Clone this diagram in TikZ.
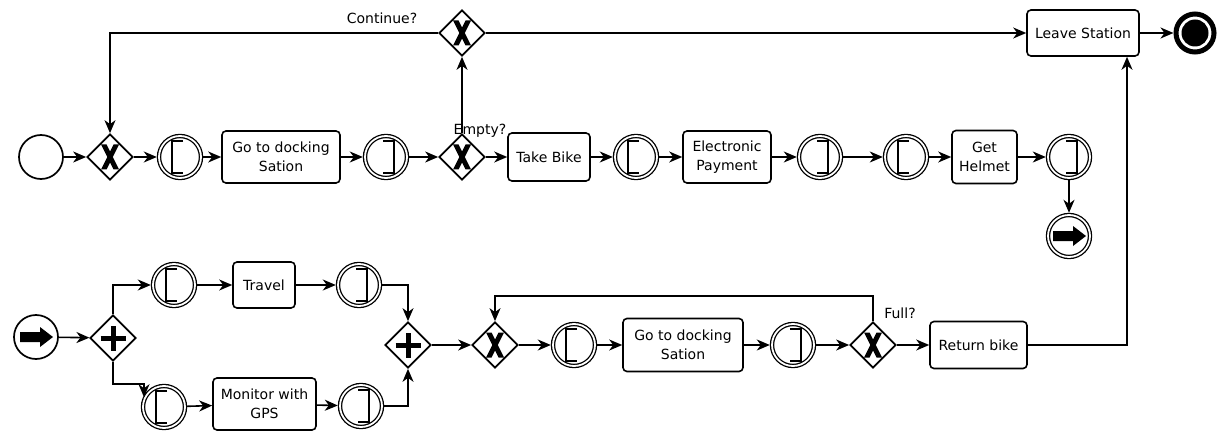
\documentclass[tikz,border=0pt]{standalone}
\usepackage{fontspec}
\setmainfont{DejaVu Sans}
\usetikzlibrary{shapes.geometric,arrows.meta}
\begin{document}
\begin{tikzpicture}[x=1pt,y=-1pt,
  font=\fontsize{14}{19}\selectfont,
  flow/.style={line width=1.6pt,-{Stealth[length=13pt,width=11pt,inset=4pt]}},
  task/.style={draw,line width=1.6pt,rounded corners=4pt,align=center,inner sep=2pt,outer sep=0.8pt},
  gw/.style={diamond,draw,line width=1.7pt,minimum width=46pt,minimum height=46pt,inner sep=0pt,outer sep=0.85pt},
  ievent/.style={circle,draw,line width=1.3pt,double,double distance=1.8pt,minimum size=42pt,inner sep=0pt,outer sep=2.2pt},
  startev/.style={circle,draw,line width=1.7pt,minimum size=44pt,inner sep=0pt,outer sep=0.85pt},
  endev/.style={circle,draw,line width=5pt,minimum size=38pt,inner sep=0pt,outer sep=2.5pt},
  bracket/.style={line width=2pt},
  plusmark/.style={line width=5pt},
  lbl/.style={inner sep=0pt}
]
\useasboundingbox (0,0) rectangle (1229,433);

% top row
\node[startev] (s0) at (41,157) {};
\node[gw] (g1) at (110,157) {};
\node[ievent] (o1) at (180,157) {};
\node[task,minimum width=118pt,minimum height=52pt] (t1) at (281,157) {Go to docking\\Sation};
\node[ievent] (c1) at (386,157) {};
\node[gw] (g2) at (462,157) {};
\node[task,minimum width=82pt,minimum height=48pt] (t2) at (549,157) {Take Bike};
\node[ievent] (o2) at (636,157) {};
\node[task,minimum width=88pt,minimum height=52pt] (t3) at (727,157) {Electronic\\Payment};
\node[ievent] (c2) at (820,157) {};
\node[ievent] (o3) at (906,157) {};
\node[task,minimum width=65pt,minimum height=53pt] (t4) at (984.5,157) {Get\\Helmet};
\node[ievent] (c3) at (1069,157) {};
\node[ievent] (lt) at (1069,236) {};

% very top
\node[gw] (g3) at (462,33) {};
\node[task,minimum width=112pt,minimum height=46pt] (t5) at (1083,33) {Leave Station};
\node[endev] (e) at (1195,33) {};

% bottom
\node[startev] (lc) at (36,337) {};
\node[gw] (a1) at (113,338) {};
\node[ievent] (o4) at (174,285) {};
\node[task,minimum width=62pt,minimum height=46pt] (t6) at (264,285) {Travel};
\node[ievent] (c4) at (359,285) {};
\node[ievent] (o5) at (164,407) {};
\node[task,minimum width=103pt,minimum height=52pt] (t7) at (264.5,404) {Monitor with\\GPS};
\node[ievent] (c5) at (361,406) {};
\node[gw] (a2) at (408,345) {};
\node[gw] (g4) at (495,345) {};
\node[ievent] (o6) at (574,345) {};
\node[task,minimum width=120pt,minimum height=53pt] (t8) at (683,345) {Go to docking\\Sation};
\node[ievent] (c6) at (793,345) {};
\node[gw] (g5) at (873,345) {};
\node[task,minimum width=97pt,minimum height=47pt] (t9) at (978.5,345) {Return bike};

% markers
\foreach \n in {g1,g2,g3,g4,g5} {
  \fill ([shift={(-9pt,-12.5pt)}]\n.center) -- ++(5.5pt,0pt) -- ++(12.5pt,25pt) -- ++(-5.5pt,0pt) -- cycle;
  \fill ([shift={(9pt,-12.5pt)}]\n.center) -- ++(-5.5pt,0pt) -- ++(-12.5pt,25pt) -- ++(5.5pt,0pt) -- cycle;
}
\foreach \n in {a1,a2} {
  \draw[plusmark] ([shift={(-12.5pt,0pt)}]\n.center) -- ++(25pt,0pt);
  \draw[plusmark] ([shift={(0pt,-12.5pt)}]\n.center) -- ++(0pt,25pt);
}
\foreach \n in {o1,o2,o3,o4,o5,o6} {
  \draw[bracket] ([shift={(3pt,16pt)}]\n.center) -- ++(-11pt,0pt) -- ++(0pt,-32pt) -- ++(11pt,0pt);
}
\foreach \n in {c1,c2,c3,c4,c5,c6} {
  \draw[bracket] ([shift={(-3pt,16pt)}]\n.center) -- ++(11pt,0pt) -- ++(0pt,-32pt) -- ++(-11pt,0pt);
}
\foreach \n in {lt,lc} {
  \fill ([shift={(-16pt,5pt)}]\n.center) -- ++(20pt,0pt) -- ++(0pt,5pt) -- ++(13pt,-10pt) -- ++(-13pt,-10pt) -- ++(0pt,5pt) -- ++(-20pt,0pt) -- cycle;
}
\fill (e.center) circle (13.5pt);

% labels
\node[lbl] (l1) at (382,18) {Continue?};
\node[lbl] (l2) at (480,131) {Empty?};
\node[lbl] (l3) at (900,313) {Full?};

\coordinate (loop) at (495,296);
\coordinate (bend) at (144,384);
\coordinate (up) at (1127,345);

% top row flows
\draw[flow] (s0) -- (g1);
\draw[flow] (g1) -- (o1);
\draw[flow] (o1) -- (t1);
\draw[flow] (t1) -- (c1);
\draw[flow] (c1) -- (g2);
\draw[flow] (g2) -- (t2);
\draw[flow] (t2) -- (o2);
\draw[flow] (o2) -- (t3);
\draw[flow] (t3) -- (c2);
\draw[flow] (c2) -- (o3);
\draw[flow] (o3) -- (t4);
\draw[flow] (t4) -- (c3);
\draw[flow] (c3) -- (lt);
\draw[flow] (g2.north) -- (g3.south);
\draw[flow] (g3.west) -| (g1.north);
\draw[flow] (g3.east) -- (t5.west |- g3.east);
\draw[flow] (t5) -- (e);

% bottom flows
\draw[flow] (lc) -- (a1);
\draw[flow] (a1.north) |- (o4.west);
\draw[flow] (a1.south) |- (bend) -- (bend |- o5.155);
\draw[flow] (o4) -- (t6);
\draw[flow] (t6) -- (c4);
\draw[flow] (o5) -- (t7);
\draw[flow] (t7) -- (c5);
\draw[flow] (c4.east) -| (a2.north);
\draw[flow] (c5.east) -| (a2.south);
\draw[flow] (a2) -- (g4);
\draw[flow] (g4) -- (o6);
\draw[flow] (o6) -- (t8);
\draw[flow] (t8) -- (c6);
\draw[flow] (c6) -- (g5);
\draw[flow] (g5) -- (t9);
\draw[flow] (g5.north) |- (loop) -- (g4.north);
\draw[flow] (t9.east) -- (up) -- (up |- t5.south);
\end{tikzpicture}
\end{document}
